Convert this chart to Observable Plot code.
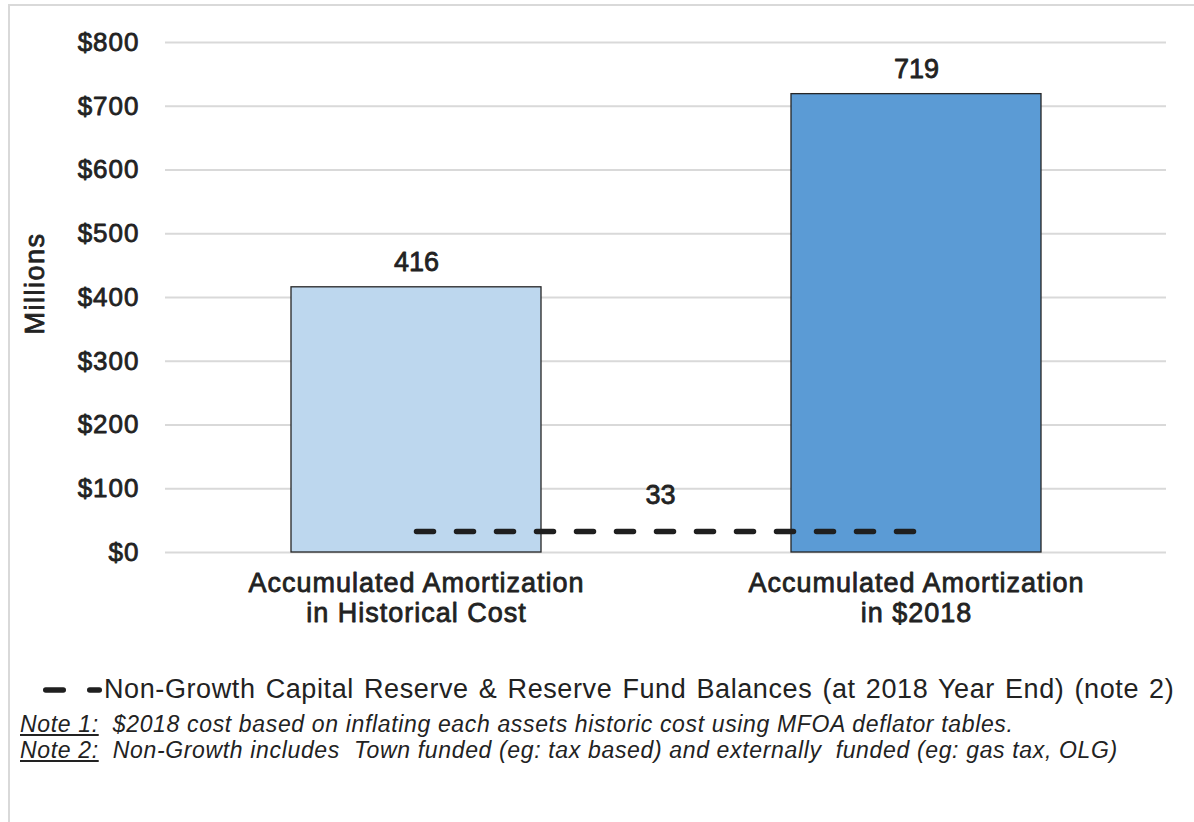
<!DOCTYPE html>
<html>
<head>
<meta charset="utf-8">
<script src="https://cdn.jsdelivr.net/npm/d3@7"></script>
<script src="https://cdn.jsdelivr.net/npm/@observablehq/plot@0.6"></script>
<style>
  html, body { margin: 0; padding: 0; background: #fff; }
  body { width: 1194px; height: 822px; position: relative; overflow: hidden; font-family: "Liberation Sans", Arial, sans-serif; color: #222; }
  #frame { position: absolute; left: 8px; top: 4px; width: 1200px; height: 830px; border-top: 2px solid #d9d9d9; border-left: 2px solid #d9d9d9; }
  #chart { position: absolute; left: 0; top: 0; }
  #legend { position: absolute; left: 40px; top: 674px; font-size: 27px; letter-spacing: 0.6px; word-spacing: 2px; display: flex; align-items: center; white-space: nowrap; }
  #notes { position: absolute; left: 20px; top: 711px; font-size: 23px; letter-spacing: 0.65px; font-style: italic; line-height: 26px; white-space: pre; }
  #chart svg text { stroke: #222; stroke-width: 0.8px; paint-order: stroke; stroke-linejoin: round; }
  #chart g[aria-label="y-axis tick label"] text { font-size: 26px; letter-spacing: 1px; }
  #chart g[aria-label="x-axis tick label"] text { font-size: 27px; letter-spacing: 1px; }
</style>
</head>
<body>
<div id="frame"></div>
<div id="chart"></div>
<div id="legend"></div>
<div id="notes"></div>
<script>
// ---- data ----
const categories = ["Accumulated Amortization\nin Historical Cost", "Accumulated Amortization\nin $2018"];
const amortization = [416, 719];
const reserveBalance = [33, 33];
const barColors = ["#BDD7EE", "#5B9BD5"];
const yTicks = [0, 100, 200, 300, 400, 500, 600, 700, 800];
const yLabel = "Millions";
const reserveLabel = "Non-Growth Capital Reserve & Reserve Fund Balances (at 2018 Year End) (note 2)";
const notes = [
  ["Note 1:", "  $2018 cost based on inflating each assets historic cost using MFOA deflator tables."],
  ["Note 2:", "  Non-Growth includes  Town funded (eg: tax based) and externally  funded (eg: gas tax, OLG)"]
];

const bars = categories.map((c, i) => ({category: c, value: amortization[i]}));
const reserve = categories.map((c, i) => ({category: c, value: reserveBalance[i]}));

const chart = Plot.plot({
  width: 1194,
  height: 650,
  marginLeft: 165,
  marginRight: 28,
  marginTop: 42,
  marginBottom: 98,
  style: {fontFamily: "'Liberation Sans', Arial, sans-serif", color: "#222", background: "transparent", overflow: "visible"},
  x: {domain: categories, paddingInner: 0.5, paddingOuter: 0.25, label: null},
  y: {domain: [0, 800], label: null},
  color: {domain: categories, range: barColors},
  marks: [
    Plot.gridY(yTicks, {stroke: "#d9d9d9", strokeOpacity: 1, strokeWidth: 2}),
    Plot.barY(bars, {x: "category", y: "value", fill: "category", stroke: "#262626", strokeWidth: 1.3}),
    Plot.text(bars, {x: "category", y: "value", text: d => String(d.value), dy: -25, fontSize: 27, fill: "#222", style: {letterSpacing: "1.5px"}}),
    Plot.line(reserve, {x: "category", y: "value", stroke: "#1f1f1f", strokeWidth: 5.5, strokeDasharray: "17 23", strokeLinecap: "round"}),
    Plot.text(reserve.slice(0, 1), {x: "category", y: "value", text: d => String(d.value), dx: 244, dy: -36, fontSize: 27, fill: "#222"}),
    Plot.axisY(yTicks, {tickFormat: d => "$" + d, tickSize: 0, tickPadding: 26, label: null, fill: "#222"}),
    Plot.axisX({tickSize: 0, tickPadding: 18, label: null, fill: "#222", lineHeight: 1.12}),
    Plot.text([yLabel], {frameAnchor: "left", textAnchor: "middle", rotate: -90, dx: -130, dy: -14, fontSize: 27, fill: "#222"})
  ]
});
document.getElementById("chart").appendChild(chart);
// letter spacing for the rotated y label
chart.querySelectorAll("text").forEach(t => { if (t.textContent === yLabel) t.style.letterSpacing = "1.5px"; });

// legend
const legend = document.getElementById("legend");
const ns = "http://www.w3.org/2000/svg";
const icon = document.createElementNS(ns, "svg");
icon.setAttribute("width", 64); icon.setAttribute("height", 20);
[[5.75, 23.25], [49.75, 59.25]].forEach(([a, b]) => {
  const l = document.createElementNS(ns, "line");
  l.setAttribute("x1", a); l.setAttribute("x2", b); l.setAttribute("y1", 10); l.setAttribute("y2", 10);
  l.setAttribute("stroke", "#1f1f1f"); l.setAttribute("stroke-width", 5.5); l.setAttribute("stroke-linecap", "round");
  icon.appendChild(l);
});
legend.appendChild(icon);
const lt = document.createElement("span"); lt.textContent = reserveLabel; legend.appendChild(lt);

// notes
const notesEl = document.getElementById("notes");
notes.forEach(([k, v]) => {
  const d = document.createElement("div");
  const u = document.createElement("u"); u.textContent = k;
  d.appendChild(u);
  d.appendChild(document.createTextNode(v));
  notesEl.appendChild(d);
});
</script>
</body>
</html>
